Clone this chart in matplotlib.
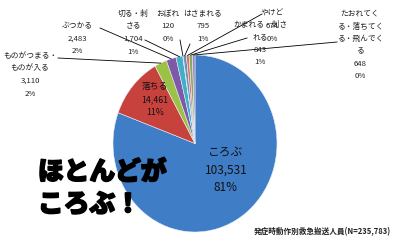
import matplotlib
matplotlib.use("Agg")
import matplotlib.pyplot as plt
import matplotlib.patheffects as pe
import numpy as np

plt.rcParams["font.family"] = ["Noto Sans CJK JP", "DejaVu Sans"]

# data
categories = ["ころぶ", "落ちる", "ものがつまる・\nものが入る", "ぶつかる", "切る・刺\nさる",
              "おぼれ", "はさまれる", "やけど", "かまれる・刺さ\nれる",
              "たおれてく\nる・落ちてく\nる・飛んでく\nる"]
counts = [103531, 14461, 3110, 2483, 1704, 120, 795, 674, 843, 648]
percents = [81, 11, 2, 2, 1, 0, 1, 0, 1, 0]
colors = ["#3f7dc6", "#c7423d", "#9bc147", "#7f58a8", "#3fb0c8", "#f79646",
          "#6f8fb8", "#d5706c", "#8cab5a", "#9a84b8"]

# label placement in pixels: (center x, first line y, leader start x, leader start y)
label_pos = [None, None,
             (30, 54, 58, 58), (77, 24, 100, 28), (133, 12, 145, 40),
             (168, 12, 180, 40), (203, 12, 190, 44), (272, 12, 262, 14),
             (260, 23, 247, 38), (360, 12, 337, 42)]

W, H = 400, 252
fig = plt.figure(figsize=(W / 100, H / 100), dpi=100)

# pie is slightly taller than wide in the reference
px0, px1, py0, py1 = 113, 277, 55, 232
ax = fig.add_axes([px0 / W, 1 - py1 / H, (px1 - px0) / W, (py1 - py0) / H])
wedges, _ = ax.pie(counts, colors=colors, startangle=90, counterclock=False, radius=1,
                   wedgeprops=dict(edgecolor="#e8eef6", linewidth=0.4))
ax.set_aspect("auto")
ax.set_xlim(-1, 1)
ax.set_ylim(-1, 1)

# overlay in pixel coordinates for labels
ov = fig.add_axes([0, 0, 1, 1], zorder=5)
ov.set_xlim(0, W)
ov.set_ylim(H, 0)
ov.axis("off")
ov.patch.set_visible(False)

cx, cy = (px0 + px1) / 2, (py0 + py1) / 2
rx, ry = (px1 - px0) / 2, (py1 - py0) / 2

for i, w in enumerate(wedges):
    mid = np.deg2rad((w.theta1 + w.theta2) / 2)
    ex, ey = cx + rx * np.cos(mid), cy - ry * np.sin(mid)
    if label_pos[i] is None:
        continue
    tx, ty, lx, ly = label_pos[i]
    ov.plot([lx, ex], [ly, ey], color="black", lw=0.6)
    txt = "%s\n%s\n%d%%" % (categories[i], format(counts[i], ","), percents[i])
    ov.text(tx, ty - 2, txt, ha="center", va="top", fontsize=5.6,
            linespacing=1.75, color="#222222")

# inside labels
ov.text(226, 146, "%s\n%s\n%d%%" % (categories[0], format(counts[0], ","), percents[0]),
        ha="center", va="top", fontsize=8.5, linespacing=1.45, color="#111111")
ov.text(155, 82, "%s\n%s\n%d%%" % (categories[1], format(counts[1], ","), percents[1]),
        ha="center", va="top", fontsize=6.3, linespacing=1.6, color="#111111")

ov.text(38, 188, "ほとんどが\nころぶ！", ha="left", va="center", fontsize=18.5,
        fontweight="heavy", linespacing=1.3, color="black",
        path_effects=[pe.withStroke(linewidth=1.2, foreground="black")])

ov.text(391, 232, "発症時動作別救急搬送人員(N=235,783)", ha="right", va="center",
        fontsize=5.5, fontweight="bold", color="#222222")

fig.savefig("out.png", dpi=100)
